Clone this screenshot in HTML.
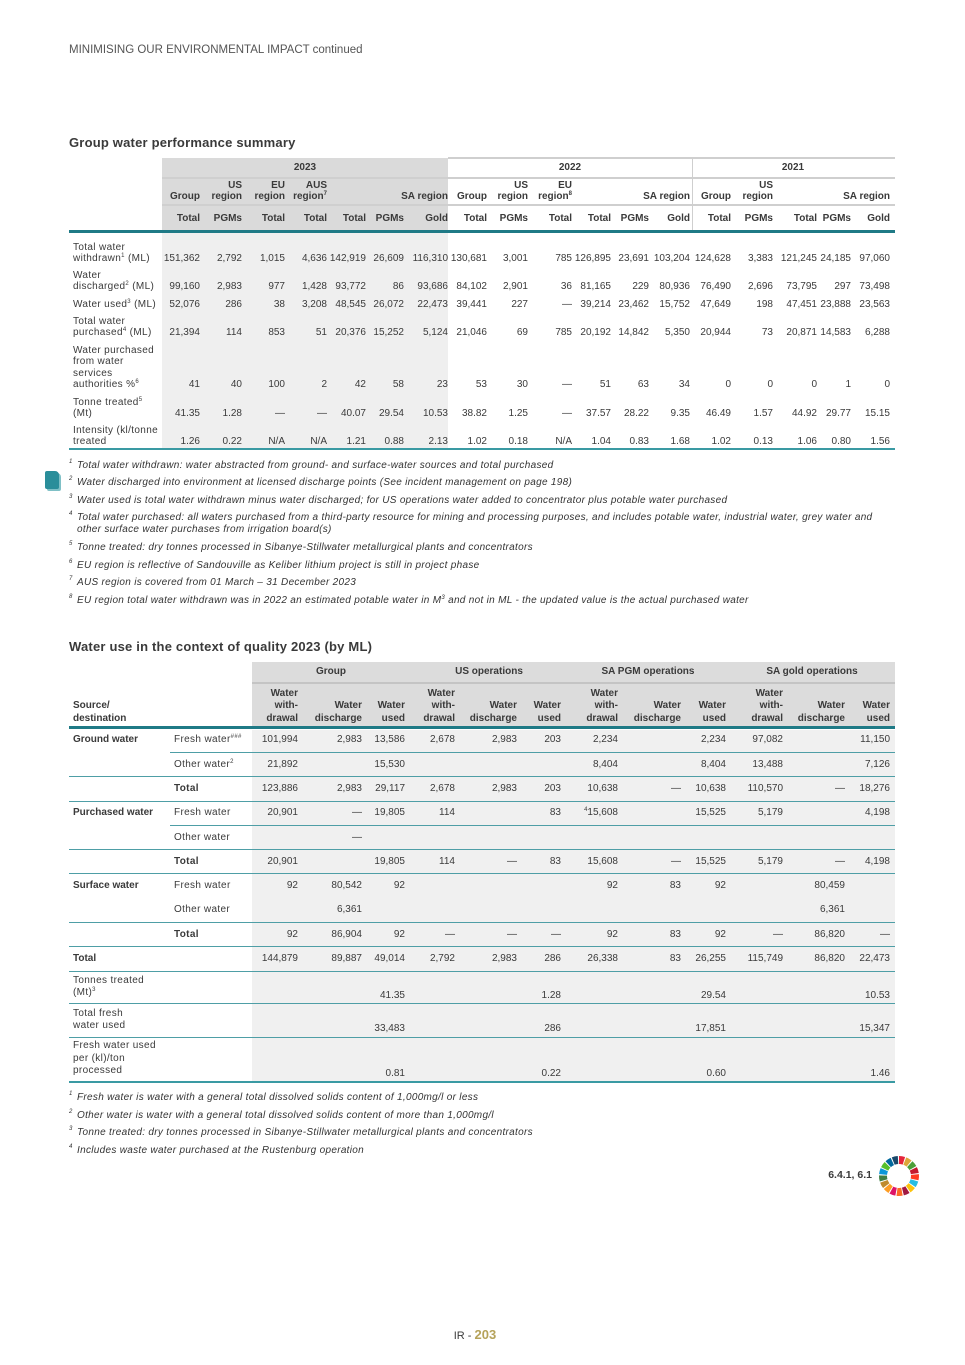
<!DOCTYPE html>
<html><head><meta charset="utf-8">
<style>
html,body{margin:0;padding:0;background:#fff;}
#page{position:relative;width:965px;height:1365px;overflow:hidden;font-family:"Liberation Sans",sans-serif;color:#3a3a3a;}
.t{position:absolute;font-size:10px;line-height:12px;white-space:nowrap;}
.lab{letter-spacing:0.35px;}
.r{text-align:right;width:200px;}
.c{text-align:center;width:200px;}
.b{font-weight:bold;}
.box{position:absolute;}
.fn{position:absolute;font-size:10px;font-style:italic;line-height:11.5px;white-space:nowrap;color:#333;letter-spacing:0.3px;}
sup{font-size:6px;vertical-align:top;line-height:6px;}
</style></head><body>
<div id="page">
<div class="t" style="left:69px;top:44px;font-size:11.5px;color:#555">MINIMISING OUR ENVIRONMENTAL IMPACT continued</div>
<div class="t b" style="left:69px;top:136px;font-size:13px;line-height:14px;letter-spacing:0.2px">Group water performance summary</div>

<div class="box" style="left:162px;top:158px;width:286px;height:73px;background:#dadada"></div>
<div class="box" style="left:162px;top:233px;width:286px;height:216px;background:#efefef"></div>
<div class="box" style="left:448px;top:157px;width:447px;height:2px;background:#cfcfcf"></div>
<div class="box" style="left:162px;top:177px;width:733px;height:2px;background:#cfcfcf"></div>
<div class="box" style="left:162px;top:204px;width:733px;height:2px;background:#cfcfcf"></div>
<div class="box" style="left:692px;top:158px;width:1px;height:73px;background:#cfcfcf"></div>
<div class="box" style="left:69px;top:230px;width:826px;height:3px;background:#1f7a86"></div>
<div class="box" style="left:69px;top:448px;width:826px;height:2px;background:#3a9aa3"></div>

<div class="t b" style="left:69px;top:640px;font-size:13px;line-height:14px;letter-spacing:0.2px">Water use in the context of quality 2023 (by ML)</div>
<div class="box" style="left:252px;top:662px;width:643px;height:65px;background:#dcdcdc"></div>
<div class="box" style="left:252px;top:682px;width:643px;height:2px;background:#c4c4c4"></div>
<div class="box" style="left:252px;top:730px;width:643px;height:352px;background:#f0f0f0"></div>
<div class="box" style="left:69px;top:726px;width:826px;height:3px;background:#1f7a86"></div>
<div class="box" style="left:69px;top:1081px;width:826px;height:2px;background:#3a9aa3"></div>

<div class="box" style="left:45px;top:471px;width:14px;height:18px;background:#2a8e9a;border-radius:2px 4px 2px 2px;box-shadow:2px 2px 0 #7fc0c6"></div>

<div class="t b" style="left:770px;top:1168px;width:102px;text-align:right;font-size:10.5px;line-height:14px">6.4.1, 6.1</div>
<svg class="box" style="left:878px;top:1155px" width="42" height="42" viewBox="-21 -21 42 42" id="wheel"></svg>

<div class="t" style="left:0;top:1328px;width:950px;text-align:center;font-size:11px;line-height:14px">IR - <span style="color:#b5a25a;font-weight:bold;font-size:13px">203</span></div>
</div>
<script>
var page=document.getElementById('page');
function txt(x,y,html,name,cls,style){
  var el=document.createElement('div');
  el.className='t '+(cls||'');
  el.style.top=(y-6)+'px';
  var parts=(cls||'').split(' ');
  if(parts.indexOf('r')>=0) el.style.left=(x-200)+'px';
  else if(parts.indexOf('c')>=0) el.style.left=(x-100)+'px';
  else el.style.left=x+'px';
  if(style) el.style.cssText+=style;
  el.innerHTML=html;
  
  
  page.appendChild(el);
  return el;
}
function line(x,y,w,h,col,name){
  var el=document.createElement('div');
  el.className='box';
  el.style.cssText='left:'+x+'px;top:'+y+'px;width:'+w+'px;height:'+h+'px;background:'+col;
  
  
  page.appendChild(el);
}
function footnote(x,y,n,text,name){
  var el=document.createElement('div');
  el.className='fn';
  el.style.left=x+'px'; el.style.top=y+'px';
  el.innerHTML='<sup style="position:absolute;left:0;top:-1px">'+n+'</sup><span style="display:inline-block;margin-left:8px">'+text+'</span>';
  
  
  page.appendChild(el);
}
/* ---------- Table 1 ---------- */
var t1Cols=[200,242,285,327,366,404,448,487,528,572,611,649,690,731,773,817,851,890];
var t1Sub=['Total','PGMs','Total','Total','Total','PGMs','Gold','Total','PGMs','Total','Total','PGMs','Gold','Total','PGMs','Total','PGMs','Gold'];
txt(305,168,'2023','year-2023','c b');
txt(570,168,'2022','year-2022','c b');
txt(793,168,'2021','year-2021','c b');
var t1Head=[[200,'','Group'],[242,'US','region'],[285,'EU','region'],[327,'AUS','region<sup>7</sup>'],[448,'','SA region'],[487,'','Group'],[528,'US','region'],[572,'EU','region<sup>8</sup>'],[690,'','SA region'],[731,'','Group'],[773,'US','region'],[890,'','SA region']];
t1Head.forEach(function(h){
  if(h[1]) txt(h[0],186,h[1],'column-group-label','r b');
  txt(h[0],197,h[2],'column-group-label','r b');
});
t1Sub.forEach(function(s,i){ txt(t1Cols[i],219,s,'column-subheader','r b'); });
var t1Labels=[['Total water','withdrawn<sup>1</sup> (ML)'],['Water','discharged<sup>2</sup> (ML)'],['Water used<sup>3</sup> (ML)'],['Total water','purchased<sup>4</sup> (ML)'],['Water purchased','from water','services','authorities %<sup>6</sup>'],['Tonne treated<sup>5</sup>','(Mt)'],['Intensity (kl/tonne','treated']];
var t1RowY=[259,287,305,333,385,414,442];
var t1Withdrawn=['151,362','2,792','1,015','4,636','142,919','26,609','116,310','130,681','3,001','785','126,895','23,691','103,204','124,628','3,383','121,245','24,185','97,060'];
var t1Discharged=['99,160','2,983','977','1,428','93,772','86','93,686','84,102','2,901','36','81,165','229','80,936','76,490','2,696','73,795','297','73,498'];
var t1Used=['52,076','286','38','3,208','48,545','26,072','22,473','39,441','227','—','39,214','23,462','15,752','47,649','198','47,451','23,888','23,563'];
var t1Purchased=['21,394','114','853','51','20,376','15,252','5,124','21,046','69','785','20,192','14,842','5,350','20,944','73','20,871','14,583','6,288'];
var t1Authority=['41','40','100','2','42','58','23','53','30','—','51','63','34','0','0','0','1','0'];
var t1Tonne=['41.35','1.28','—','—','40.07','29.54','10.53','38.82','1.25','—','37.57','28.22','9.35','46.49','1.57','44.92','29.77','15.15'];
var t1Intensity=['1.26','0.22','N/A','N/A','1.21','0.88','2.13','1.02','0.18','N/A','1.04','0.83','1.68','1.02','0.13','1.06','0.80','1.56'];
var t1Data=[t1Withdrawn,t1Discharged,t1Used,t1Purchased,t1Authority,t1Tonne,t1Intensity];
t1Data.forEach(function(row,r){
  var y=t1RowY[r], lab=t1Labels[r];
  lab.forEach(function(l,k){ txt(73,y-(lab.length-1-k)*11.5,l,'row-label','lab'); });
  row.forEach(function(v,c){ txt(t1Cols[c],y,v,'table1-cell','r'); });
});
var fn1=['Total water withdrawn: water abstracted from ground- and surface-water sources and total purchased',
'Water discharged into environment at licensed discharge points (See incident management on page 198)',
' Water used is total water withdrawn minus water discharged; for US operations water added to concentrator plus potable water purchased',
'Total water purchased: all waters purchased from a third-party resource for mining and processing purposes, and includes potable water, industrial water, grey water and<br>other surface water purchases from irrigation board(s)',
'Tonne treated: dry tonnes processed in Sibanye-Stillwater metallurgical plants and concentrators',
'EU region is reflective of Sandouville as Keliber lithium project is still in project phase',
'AUS region is covered from 01 March – 31 December 2023',
'EU region total water withdrawn was in 2022 an estimated potable water in M<sup>3</sup> and not in ML - the updated value is the actual purchased water'];
var fn1Y=[460,477,495,512,542,560,577,595];
fn1.forEach(function(f,i){ footnote(69,fn1Y[i],i+1,f,'table1-footnote'); });
/* ---------- Table 2 ---------- */
var t2Cols=[298,362,405,455,517,561,618,681,726,783,845,890];
txt(331,672,'Group','group-header','c b');
txt(489,672,'US operations','us-operations-header','c b');
txt(648,672,'SA PGM operations','sa-pgm-header','c b');
txt(812,672,'SA gold operations','sa-gold-header','c b');
txt(73,706,'Source/','source-header','b');
txt(73,719,'destination','source-header','b');
for(var g=0;g<4;g++){
  var c0=t2Cols[g*3];
  txt(c0,694,'Water','col-withdrawal','r b');
  txt(c0,706,'with-','col-withdrawal','r b');
  txt(c0,719,'drawal','col-withdrawal','r b');
  txt(t2Cols[g*3+1],706,'Water','col-discharge','r b');
  txt(t2Cols[g*3+1],719,'discharge','col-discharge','r b');
  txt(t2Cols[g*3+2],706,'Water','col-used','r b');
  txt(t2Cols[g*3+2],719,'used','col-used','r b');
}
var t2Cat=['Ground water','','','Purchased water','','','Surface water','','','Total','','',''];
var t2Sub=[['Fresh water<sup>###</sup>'],['Other water<sup>2</sup>'],['<b>Total</b>'],['Fresh water'],['Other water'],['<b>Total</b>'],['Fresh water'],['Other water'],['<b>Total</b>'],[''],[],[],[]];
var t2Labels={10:['Tonnes treated','(Mt)<sup>3</sup>'],11:['Total fresh','water used'],12:['Fresh water used','per (kl)/ton','processed']};
var t2RowY=[740,765,789,813,838,862,886,910,935,959,996,1029,1074];
var t2Ground=['101,994','2,983','13,586','2,678','2,983','203','2,234','','2,234','97,082','','11,150'];
var t2GroundOther=['21,892','','15,530','','','','8,404','','8,404','13,488','','7,126'];
var t2GroundTotal=['123,886','2,983','29,117','2,678','2,983','203','10,638','—','10,638','110,570','—','18,276'];
var t2Purch=['20,901','—','19,805','114','','83','<sup>4</sup>15,608','','15,525','5,179','','4,198'];
var t2PurchOther=['','—','','','','','','','','','',''];
var t2PurchTotal=['20,901','','19,805','114','—','83','15,608','—','15,525','5,179','—','4,198'];
var t2Surf=['92','80,542','92','','','','92','83','92','','80,459',''];
var t2SurfOther=['','6,361','','','','','','','','','6,361',''];
var t2SurfTotal=['92','86,904','92','—','—','—','92','83','92','—','86,820','—'];
var t2Total=['144,879','89,887','49,014','2,792','2,983','286','26,338','83','26,255','115,749','86,820','22,473'];
var t2Tonnes=['','','41.35','','','1.28','','','29.54','','','10.53'];
var t2FreshUsed=['','','33,483','','','286','','','17,851','','','15,347'];
var t2PerTon=['','','0.81','','','0.22','','','0.60','','','1.46'];
var t2Data=[t2Ground,t2GroundOther,t2GroundTotal,t2Purch,t2PurchOther,t2PurchTotal,t2Surf,t2SurfOther,t2SurfTotal,t2Total,t2Tonnes,t2FreshUsed,t2PerTon];
t2Data.forEach(function(row,r){
  var y=t2RowY[r];
  if(t2Cat[r]) txt(73,y,t2Cat[r],'source-category','b');
  if(t2Sub[r][0]) txt(174,y,t2Sub[r][0],'water-type','lab');
  if(t2Labels[r]){ var L=t2Labels[r]; L.forEach(function(l,k){ txt(73,y-(L.length-1-k)*12.5-3,l,'row-label','lab'); }); }
  row.forEach(function(v,c){ if(v) txt(t2Cols[c],y,v,'table2-cell','r'); });
});
var partial=[752,825];
partial.forEach(function(y){ line(170,y,725,1,'#4e9ea6','t2-row-rule'); });
var full=[776,801,849,873,922,946,971,1003,1037];
full.forEach(function(y){ line(69,y,826,1,'#4e9ea6','t2-row-rule'); });
var fn2=['Fresh water is water with a general total dissolved solids content of 1,000mg/l or less',
'Other water is water with a general total dissolved solids content of more than 1,000mg/l',
'Tonne treated: dry tonnes processed in Sibanye-Stillwater metallurgical plants and concentrators',
'Includes waste water purchased at the Rustenburg operation'];
fn2.forEach(function(f,i){ footnote(69,1092+i*17.6,i+1,f,'table2-footnote'); });
/* SDG wheel */
var cols=['#e5243b','#dda63a','#4c9f38','#c5192d','#ff3a21','#26bde2','#fcc30b','#a21942','#fd6925','#dd1367','#fd9d24','#bf8b2e','#3f7e44','#0a97d9','#56c02b','#00689d','#19486a'];
var w=document.getElementById('wheel'),s='';
for(var i=0;i<17;i++){
  var a0=(i/17)*2*Math.PI-Math.PI/2,a1=((i+1)/17)*2*Math.PI-Math.PI/2-0.06;
  var R=20,r=12;
  s+='<path d="M'+(R*Math.cos(a0))+' '+(R*Math.sin(a0))+' A'+R+' '+R+' 0 0 1 '+(R*Math.cos(a1))+' '+(R*Math.sin(a1))+' L'+(r*Math.cos(a1))+' '+(r*Math.sin(a1))+' A'+r+' '+r+' 0 0 0 '+(r*Math.cos(a0))+' '+(r*Math.sin(a0))+'Z" fill="'+cols[i]+'"/>';
}
w.innerHTML=s;
</script>
</body></html>
